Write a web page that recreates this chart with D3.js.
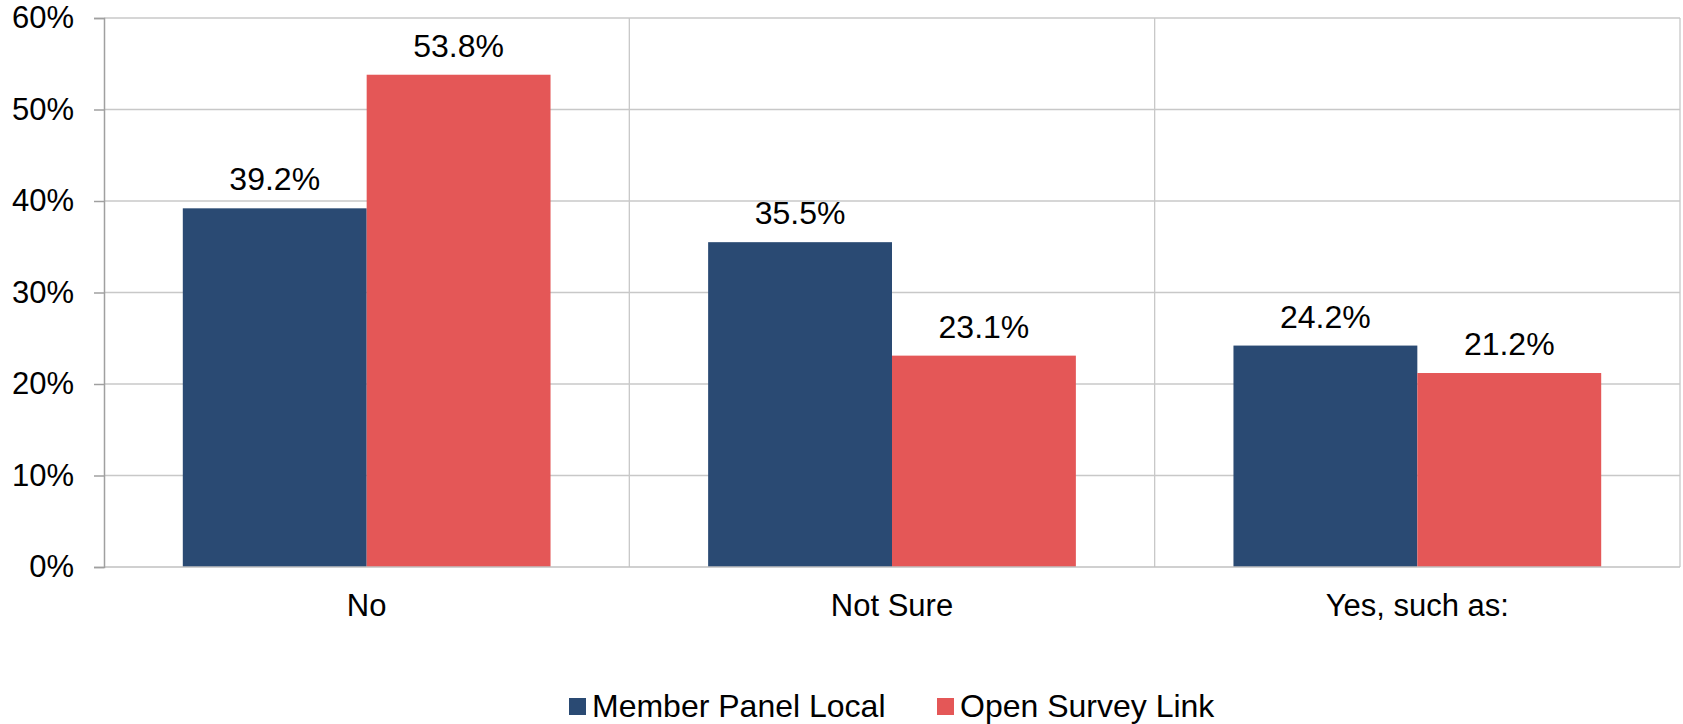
<!DOCTYPE html>
<html lang="en">
<head>
    <meta charset="UTF-8">
    <title>Member Panel vs Open Survey</title>
    <script src="https://d3js.org/d3.v7.min.js"></script>
    <style>
        body{
            margin: 0;
            background: white;
            font-family: "Liberation Sans", Arial, sans-serif;
        }
        .lbl{
            font-size: 31px;
            fill: black;
        }
        .val{
            font-size: 32px;
            fill: black;
        }
    </style>
</head>
<body>
<svg id="chart" width="1683" height="724"></svg>
<script>
    // data
    let categories = ["No", "Not Sure", "Yes, such as:"]
    let seriesNames = ["Member Panel Local", "Open Survey Link"]
    let memberPanel = [39.2, 35.5, 24.2]
    let openSurvey = [53.8, 23.1, 21.2]
    let yTicks = [0, 10, 20, 30, 40, 50, 60]
    let colors = ["#2a4a73", "#e45757"]

    let plotLeft = 104, plotRight = 1680, plotTop = 18, plotBottom = 567
    let svg = d3.select("#chart")

    let y = d3.scaleLinear().domain([0, 60]).range([plotBottom, plotTop])
    let x0 = d3.scaleBand().domain(categories).range([plotLeft, plotRight])
    let bw = x0.bandwidth()
    let x1 = d3.scaleBand().domain(seriesNames)
        .range([bw * 0.15, bw * 0.85])

    // horizontal grid
    svg.append("g")
        .selectAll("line")
        .data(yTicks.slice(1))
        .join("line")
        .attr("x1", plotLeft).attr("x2", plotRight)
        .attr("y1", d => y(d)).attr("y2", d => y(d))
        .attr("stroke", "#c8c8c8").attr("stroke-width", 1.3)

    // vertical separators between categories + right edge
    svg.append("g")
        .selectAll("line")
        .data(categories.slice(1).map(c => x0(c)).concat([plotRight]))
        .join("line")
        .attr("x1", d => d).attr("x2", d => d)
        .attr("y1", plotTop).attr("y2", plotBottom)
        .attr("stroke", "#c8c8c8").attr("stroke-width", 1.3)

    // bars
    let rows = categories.map((c, i) => ({cat: c, vals: [memberPanel[i], openSurvey[i]]}))
    let groups = svg.append("g").selectAll("g")
        .data(rows)
        .join("g")
        .attr("transform", d => `translate(${x0(d.cat)},0)`)

    groups.selectAll("rect")
        .data(d => d.vals.map((v, k) => ({name: seriesNames[k], v: v, k: k})))
        .join("rect")
        .attr("x", d => x1(d.name))
        .attr("width", x1.bandwidth())
        .attr("y", d => y(d.v))
        .attr("height", d => plotBottom - y(d.v))
        .attr("fill", d => colors[d.k])

    groups.selectAll("text")
        .data(d => d.vals.map((v, k) => ({name: seriesNames[k], v: v})))
        .join("text")
        .attr("class", "val")
        .attr("text-anchor", "middle")
        .attr("x", d => x1(d.name) + x1.bandwidth() / 2)
        .attr("y", d => y(d.v) - 18)
        .text(d => d.v.toFixed(1) + "%")

    // x axis line
    svg.append("line")
        .attr("x1", plotLeft).attr("x2", plotRight)
        .attr("y1", plotBottom).attr("y2", plotBottom)
        .attr("stroke", "#c0c0c0").attr("stroke-width", 1.5)

    // y axis
    let yAxis = d3.axisLeft(y)
        .tickValues(yTicks)
        .tickSize(10)
        .tickPadding(20)
        .tickFormat(d => d + "%")
    let yg = svg.append("g")
        .attr("transform", `translate(${plotLeft},0)`)
        .call(yAxis)
    yg.select(".domain").attr("stroke", "#a0a0a0").attr("stroke-width", 1.5)
    yg.selectAll(".tick line").attr("stroke", "#a0a0a0").attr("stroke-width", 1.5)
    yg.attr("font-family", null).attr("font-size", null)
    yg.selectAll(".tick text")
        .attr("class", "lbl")
        .attr("fill", "black")

    // category labels
    svg.append("g").selectAll("text")
        .data(categories)
        .join("text")
        .attr("class", "lbl")
        .attr("text-anchor", "middle")
        .attr("x", d => x0(d) + bw / 2)
        .attr("y", 616)
        .text(d => d)

    // legend
    let legendX = [569, 937]
    let legend = svg.append("g").selectAll("g")
        .data(seriesNames)
        .join("g")
        .attr("transform", (d, i) => `translate(${legendX[i]},0)`)
    legend.append("rect")
        .attr("x", 0).attr("y", 698)
        .attr("width", 17).attr("height", 17)
        .attr("fill", (d, i) => colors[i])
    legend.append("text")
        .attr("class", "val")
        .attr("x", 23).attr("y", 717)
        .text(d => d)
</script>
</body>
</html>
